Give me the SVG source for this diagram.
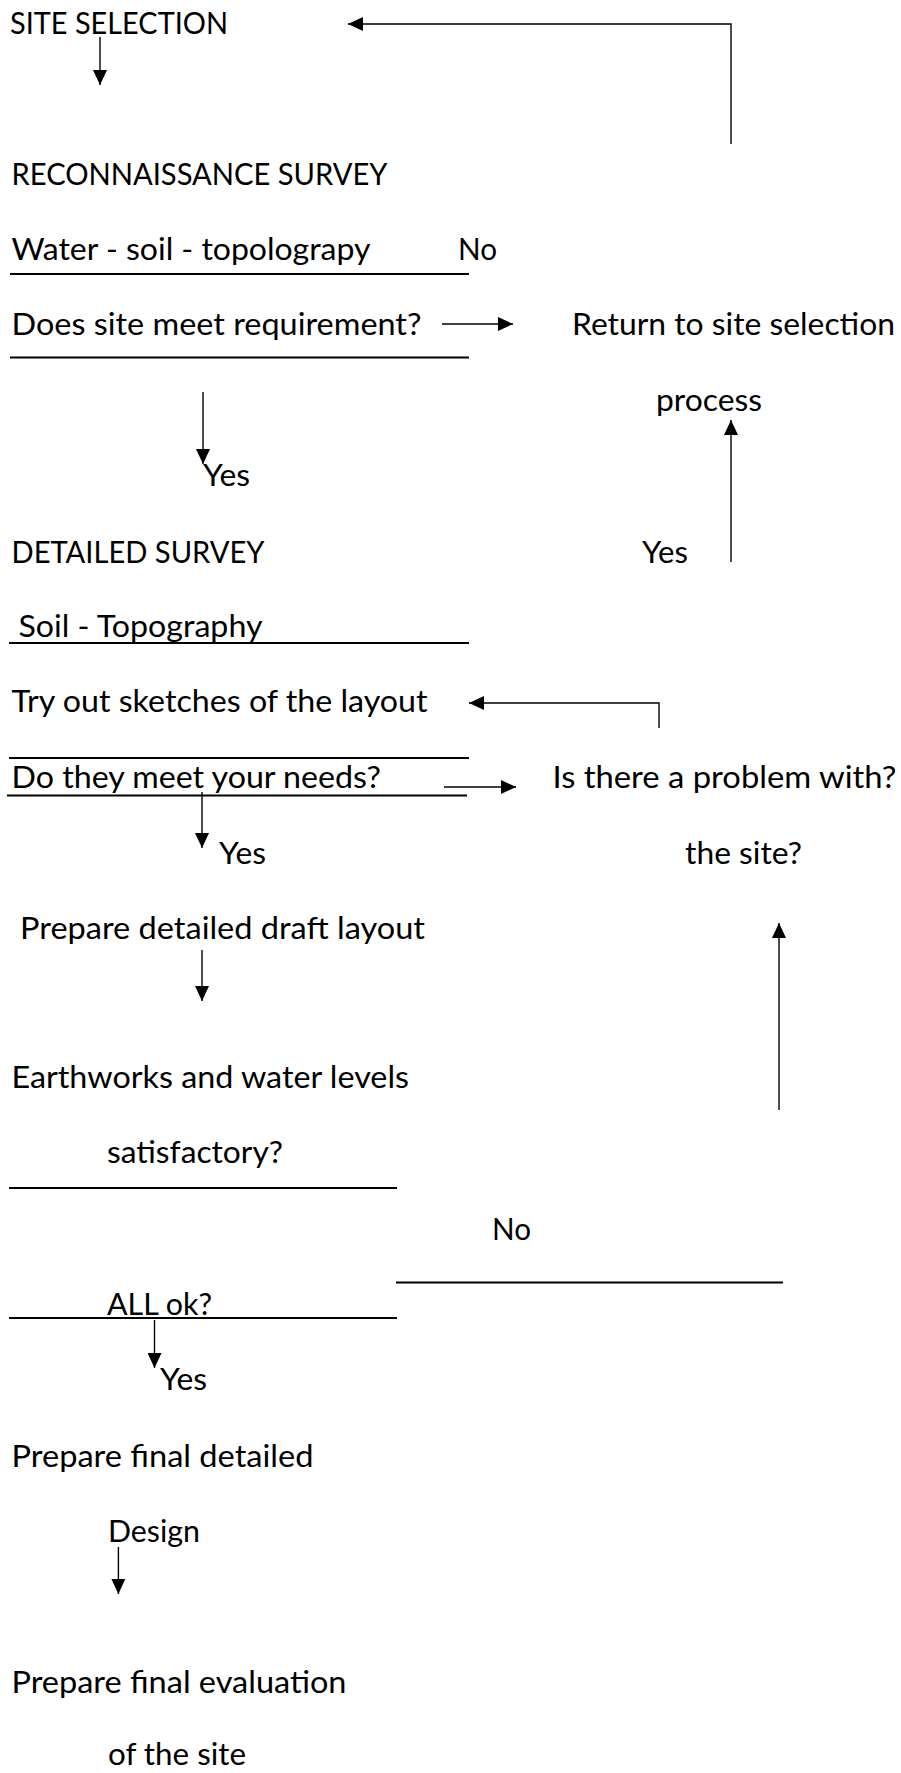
<svg xmlns="http://www.w3.org/2000/svg" width="901" height="1773" viewBox="0 0 901 1773">
<style>
text{font-family:Lato,"Open Sans","Liberation Sans",sans-serif;font-size:31.5px;fill:#000}
.ul{stroke:#000;stroke-width:2;fill:none}
.c{stroke:#000;stroke-width:1.4;fill:none}
</style>
<defs>
<marker id="ah" markerUnits="userSpaceOnUse" markerWidth="16" markerHeight="14" refX="15" refY="7" orient="auto">
<path d="M0,0 L15,7 L0,14 Z" fill="#000"/>
</marker>
</defs>
<rect width="901" height="1773" fill="#fff"/>
<g id="n-site-selection"><text x="10" y="34" textLength="218" lengthAdjust="spacingAndGlyphs">SITE SELECTION</text></g>
<g id="n-recon"><text x="11.5" y="185" textLength="376" lengthAdjust="spacingAndGlyphs">RECONNAISSANCE SURVEY</text></g>
<g id="n-water"><text x="11.5" y="260" textLength="359" lengthAdjust="spacingAndGlyphs">Water - soil - topolograpy</text><line class="ul" x1="10" y1="274" x2="469" y2="274"/></g>
<g id="n-no1"><text x="458" y="260" textLength="39" lengthAdjust="spacingAndGlyphs">No</text></g>
<g id="n-does"><text x="11.5" y="335" textLength="410" lengthAdjust="spacingAndGlyphs">Does site meet requirement?</text><line class="ul" x1="10" y1="357.5" x2="469" y2="357.5"/></g>
<g id="n-return"><text x="572" y="335" textLength="323" lengthAdjust="spacingAndGlyphs">Return to site selection</text><text x="656" y="411" textLength="106" lengthAdjust="spacingAndGlyphs">process</text></g>
<g id="n-yes1"><text x="203" y="486" textLength="47" lengthAdjust="spacingAndGlyphs">Yes</text></g>
<g id="n-detailed"><text x="11.5" y="563" textLength="253" lengthAdjust="spacingAndGlyphs">DETAILED SURVEY</text></g>
<g id="n-yes2"><text x="642" y="563" textLength="46" lengthAdjust="spacingAndGlyphs">Yes</text></g>
<g id="n-soil"><text x="18.5" y="637" textLength="244" lengthAdjust="spacingAndGlyphs">Soil - Topography</text><line class="ul" x1="9" y1="643" x2="469" y2="643"/></g>
<g id="n-tryout"><text x="11.5" y="712" textLength="416" lengthAdjust="spacingAndGlyphs">Try out sketches of the layout</text><line class="ul" x1="9" y1="758" x2="469" y2="758"/></g>
<g id="n-dothey"><text x="11.5" y="788" textLength="369.5" lengthAdjust="spacingAndGlyphs">Do they meet your needs?</text><line class="ul" x1="7" y1="795.5" x2="467" y2="795.5"/></g>
<g id="n-problem"><text x="552.5" y="788" textLength="344" lengthAdjust="spacingAndGlyphs">Is there a problem with?</text><text x="685" y="864" textLength="117" lengthAdjust="spacingAndGlyphs">the site?</text></g>
<g id="n-yes3"><text x="219" y="864" textLength="47" lengthAdjust="spacingAndGlyphs">Yes</text></g>
<g id="n-draft"><text x="20" y="939" textLength="405" lengthAdjust="spacingAndGlyphs">Prepare detailed draft layout</text></g>
<g id="n-earthworks"><text x="11.5" y="1088" textLength="397.5" lengthAdjust="spacingAndGlyphs">Earthworks and water levels</text><text x="107" y="1163" textLength="176" lengthAdjust="spacingAndGlyphs">satisfactory?</text><line class="ul" x1="9" y1="1188" x2="397" y2="1188"/></g>
<g id="n-no2"><text x="492" y="1240" textLength="39" lengthAdjust="spacingAndGlyphs">No</text><line class="ul" x1="396" y1="1282.5" x2="783" y2="1282.5"/></g>
<g id="n-allok"><text x="107" y="1315" textLength="105" lengthAdjust="spacingAndGlyphs">ALL ok?</text><line class="ul" x1="9" y1="1318" x2="397" y2="1318"/></g>
<g id="n-yes4"><text x="160" y="1390" textLength="47" lengthAdjust="spacingAndGlyphs">Yes</text></g>
<g id="n-final-design"><text x="11.5" y="1467" textLength="302" lengthAdjust="spacingAndGlyphs">Prepare final detailed</text><text x="108" y="1542" textLength="92" lengthAdjust="spacingAndGlyphs">Design</text></g>
<g id="n-final-eval"><text x="11.5" y="1693" textLength="335" lengthAdjust="spacingAndGlyphs">Prepare final evaluation</text><text x="108" y="1765" textLength="138" lengthAdjust="spacingAndGlyphs">of the site</text></g>
<g id="connectors">
<path class="c" d="M100,37 V85" marker-end="url(#ah)"/>
<path class="c" d="M731,144 V24 H348" marker-end="url(#ah)"/>
<path class="c" d="M442,324 H513" marker-end="url(#ah)"/>
<path class="c" d="M203,392 V464" marker-end="url(#ah)"/>
<path class="c" d="M731,562 V420" marker-end="url(#ah)"/>
<path class="c" d="M659,728 V703 H469" marker-end="url(#ah)"/>
<path class="c" d="M444,787 H516" marker-end="url(#ah)"/>
<path class="c" d="M202,792 V848" marker-end="url(#ah)"/>
<path class="c" d="M202,950 V1001" marker-end="url(#ah)"/>
<path class="c" d="M779,1110 V923" marker-end="url(#ah)"/>
<path class="c" d="M154.5,1320 V1368" marker-end="url(#ah)"/>
<path class="c" d="M118.4,1547 V1594" marker-end="url(#ah)"/>
</g>
</svg>
